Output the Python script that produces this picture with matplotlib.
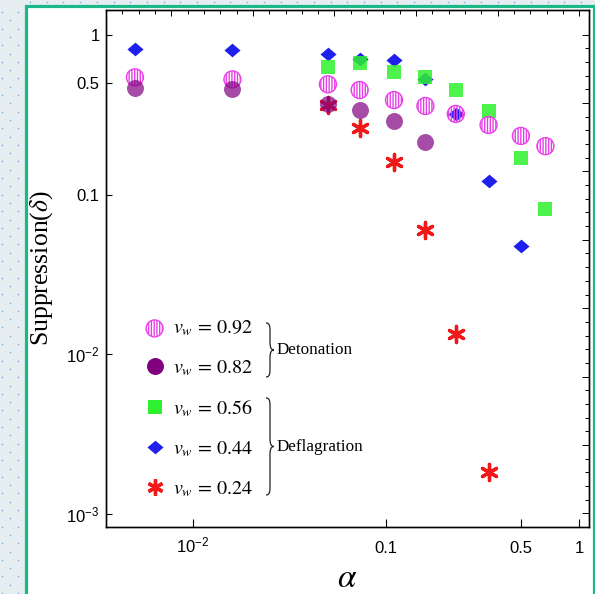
import numpy as np
import matplotlib
matplotlib.use('Agg')
import matplotlib.pyplot as plt
from matplotlib.path import Path
from matplotlib.patches import PathPatch, Rectangle
from matplotlib.lines import Line2D

plt.rcParams['mathtext.fontset'] = 'stix'
plt.rcParams['mathtext.rm'] = 'Liberation Sans'
plt.rcParams['mathtext.it'] = 'Liberation Sans:italic'
plt.rcParams['mathtext.bf'] = 'Liberation Sans:bold'
plt.rcParams['hatch.linewidth'] = 1.0
plt.rcParams['hatch.color'] = '#e840e8'

# ---------------- data ----------------
alpha_092 = [0.005, 0.016, 0.05, 0.073, 0.11, 0.16, 0.23, 0.34, 0.5, 0.67]
supp_092 = [0.543, 0.527, 0.491, 0.452, 0.391, 0.359, 0.32, 0.273, 0.233, 0.201]
alpha_082 = [0.005, 0.016, 0.05, 0.073, 0.11, 0.16]
supp_082 = [0.463, 0.458, 0.369, 0.339, 0.290, 0.213]
alpha_056 = [0.05, 0.073, 0.11, 0.16, 0.23, 0.34, 0.5, 0.67]
supp_056 = [0.633, 0.671, 0.589, 0.548, 0.452, 0.334, 0.170, 0.0807]
alpha_044 = [0.005, 0.016, 0.05, 0.073, 0.11, 0.16, 0.23, 0.34, 0.5]
supp_044 = [0.813, 0.80, 0.76, 0.704, 0.694, 0.527, 0.32, 0.1215, 0.0478]
alpha_024 = [0.05, 0.073, 0.11, 0.16, 0.23, 0.34]
supp_024 = [0.364, 0.26, 0.16, 0.060, 0.0133, 0.00183]

series_labels = [r'$v_w\,=\,0.92$', r'$v_w\,=\,0.82$', r'$v_w\,=\,0.56$',
                 r'$v_w\,=\,0.44$', r'$v_w\,=\,0.24$']
group_labels = ['Detonation', 'Deflagration']

x_ticks = [0.01, 0.1, 0.5, 1]
x_ticklabels = [r'$10^{-2}$', '0.1', '0.5', '1']
y_ticks = [1, 0.5, 0.1, 0.01, 0.001]
y_ticklabels = ['1', '0.5', '0.1', r'$10^{-2}$', r'$10^{-3}$']

# ---------------- figure ----------------
W, H = 595, 594
fig = plt.figure(figsize=(W / 100, H / 100), dpi=100)
fig.patch.set_facecolor('#e7eef2')

def fx(px):
    return px / W

def fy(py):
    return 1 - py / H

# background dots (page decoration)
dx, dy = [], []
for col, xo in enumerate([1.5, 9.5, 17.5]):
    off = 0 if col != 1 else 8.3
    for r in range(40):
        yy = 12 + off + r * 16.6
        if yy < H:
            dx.append(fx(xo)); dy.append(fy(yy))
for k in range(40):
    xx = 30 + k * 16.7
    if xx < W:
        dx.append(fx(xx)); dy.append(fy(1.5))
fig.add_artist(Line2D(dx, dy, transform=fig.transFigure, ls='none', marker='s',
                      ms=1.1, color='#7db8ea', mew=0, zorder=-3))

frame = Rectangle((fx(25.5), -0.05), fx(593.5) - fx(25.5), fy(5.5) + 0.05,
                  transform=fig.transFigure, facecolor='white',
                  edgecolor='#1ab886', linewidth=2.3, zorder=-2)
fig.add_artist(frame)

ax = fig.add_axes([fx(106), fy(527), fx(589) - fx(106), fy(10) - fy(527)])
ax.set_facecolor('none')
ax.set_xscale('log')
ax.set_yscale('log')
xlim = (0.003540, 1.127)
ylim = (8.23e-4, 1.435)
ax.set_xlim(*xlim)
ax.set_ylim(*ylim)

col_092 = '#e840e8'
col_082 = '#800080'
col_056 = '#2ef02e'
col_044 = '#2020ee'
col_024 = '#f01818'

diamond = [(0, 0.85), (1, 0), (0, -0.85), (-1, 0), (0, 0.85)]

ax.scatter(alpha_044, supp_044, s=135, marker=diamond, color=col_044,
           linewidths=0, zorder=2)
ax.scatter(alpha_056, supp_056, s=112, marker='s', color=col_056, alpha=0.85,
           linewidths=0, zorder=3)
ax.scatter(alpha_024, supp_024, s=135, marker=(6, 2, 0), c=col_024,
           linewidths=2.4, zorder=3.5)
h092 = ax.scatter(alpha_092, supp_092, s=149, marker='o', facecolors='none',
                  edgecolors=col_092, hatch='||||||', linewidths=1.0, zorder=4)
ax.scatter(alpha_082, supp_082, s=149, marker='o', color=col_082, alpha=0.7,
           linewidths=0, zorder=5)

# axes styling
for sp in ax.spines.values():
    sp.set_linewidth(0.9)
ax.xaxis.set_minor_locator(matplotlib.ticker.NullLocator())
ax.yaxis.set_minor_locator(matplotlib.ticker.NullLocator())
ax.set_xticks(x_ticks, labels=x_ticklabels, math_fontfamily='custom',
              family='Liberation Sans', fontsize=12)
ax.set_yticks(y_ticks, labels=y_ticklabels, math_fontfamily='custom',
              family='Liberation Sans', fontsize=12)
ax.tick_params(axis='x', which='major', direction='in', length=5.5, width=0.8,
               pad=18.5, top=False)
ax.tick_params(axis='y', which='major', direction='in', length=4, width=0.8,
               pad=4.5, right=False)
for lbl in ax.get_xticklabels():
    lbl.set_verticalalignment('baseline')

# top / right frame ticks
axt = ax.twiny()
axt.set_xscale('linear')
axt.set_xlim(np.log10(xlim[0]), np.log10(xlim[1]))
axt.set_xticks(np.arange(0, -2.6, -10 / 23))
axt.set_xticks(np.arange(0, -2.6, -2 / 23), minor=True)
axt.tick_params(which='both', direction='in', labeltop=False, width=0.7)
axt.tick_params(which='major', length=4.5)
axt.tick_params(which='minor', length=3.2)

axr = ax.twinx()
axr.set_yscale('linear')
axr.set_ylim(np.log10(ylim[0]), np.log10(ylim[1]))
axr.set_yticks(np.arange(0, -3.2, -10 / 23))
axr.set_yticks(np.arange(0, -3.2, -2 / 23), minor=True)
axr.tick_params(which='both', direction='in', labelright=False, width=0.7)
axr.tick_params(which='major', length=5)
axr.tick_params(which='minor', length=3)
for a in (axt, axr):
    for sp in a.spines.values():
        sp.set_linewidth(0.9)

ax.set_xlabel(r'$\alpha$', fontsize=24, labelpad=4)
ax.set_ylabel(r'Suppression($\delta$)', family='Liberation Serif', fontsize=18.5,
              labelpad=8)

# legend
handles = [
    h092,
    Line2D([], [], ls='none', marker='o', ms=12.2, color=col_082, mew=0),
    Line2D([], [], ls='none', marker='s', ms=10.6, color=col_056, mew=0),
    Line2D([], [], ls='none', marker=diamond, ms=11.6, color=col_044, mew=0),
    Line2D([], [], ls='none', marker=(6, 2, 0), ms=11.5, color=col_024, mew=2.4),
]
leg = ax.legend(handles, series_labels, loc='upper left',
                bbox_to_anchor=(fx(144.5), fy(319)), bbox_transform=fig.transFigure,
                frameon=False, borderpad=0, borderaxespad=0, handlelength=1.0,
                handletextpad=0.42, labelspacing=1.0, scatterpoints=1,
                prop={'family': 'Liberation Serif', 'size': 14.5})
for t in leg.get_texts():
    t.set_math_fontfamily('stix')

# braces
def brace(x0, y0, y1, w):
    q = w / 2
    ym = (y0 + y1) / 2
    pts = [
        (x0, y0), (x0 + q, y0), (x0 + q, y0 + q), (x0 + q, y0 + 2.2 * q),
        (x0 + q, ym - 2 * q),
        (x0 + q, ym - 0.6 * q), (x0 + 1.3 * q, ym), (x0 + w, ym),
        (x0 + 1.3 * q, ym), (x0 + q, ym + 0.6 * q), (x0 + q, ym + 2 * q),
        (x0 + q, y1 - 2.2 * q),
        (x0 + q, y1 - q), (x0 + q, y1), (x0, y1),
    ]
    codes = [Path.MOVETO, Path.CURVE4, Path.CURVE4, Path.CURVE4,
             Path.LINETO,
             Path.CURVE4, Path.CURVE4, Path.CURVE4,
             Path.CURVE4, Path.CURVE4, Path.CURVE4,
             Path.LINETO,
             Path.CURVE4, Path.CURVE4, Path.CURVE4]
    verts = [(fx(a), fy(b)) for a, b in pts]
    fig.add_artist(PathPatch(Path(verts, codes), transform=fig.transFigure,
                             facecolor='none', edgecolor='#222222', lw=0.9))

brace(266, 323, 377, 8)
brace(266, 398, 495, 8)
fig.text(fx(277), fy(350), group_labels[0], family='Liberation Serif',
         fontsize=12.3, va='center', ha='left')
fig.text(fx(277), fy(447), group_labels[1], family='Liberation Serif',
         fontsize=12.3, va='center', ha='left')

fig.savefig('out.png', dpi=100, facecolor=fig.get_facecolor())
